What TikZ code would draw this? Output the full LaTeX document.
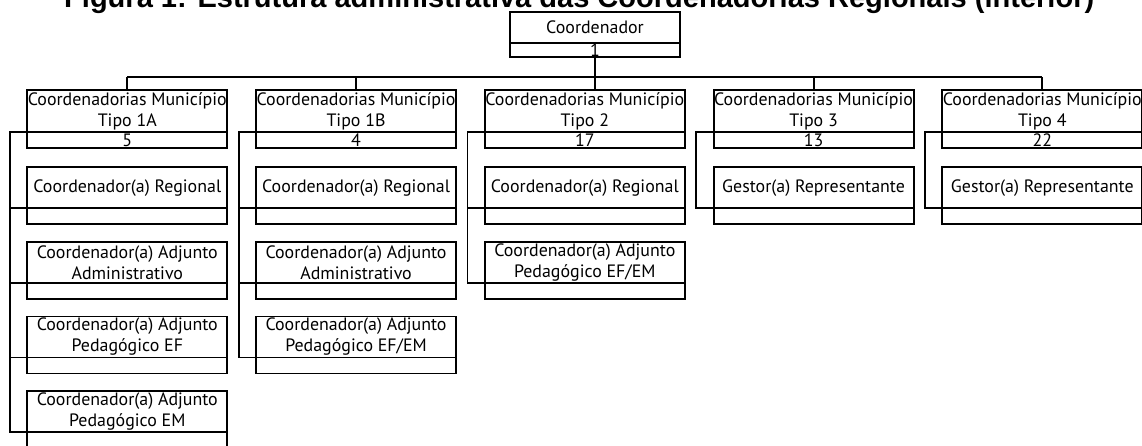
\documentclass[tikz,border=0pt]{standalone}
\usepackage{fontspec}
\setmainfont{PT Sans}
\newfontfamily\titlefont{Liberation Sans}
\usetikzlibrary{calc}

% one box of the chart: name, left x, top y, label
\newcommand{\orgchild}[4]{%
  \node[cbox] (#1) at (#2,#3) {};
  \coordinate (#1d) at ($(#1.north west)+(0,41)$);
  \draw[wire] (#1d) -- (#1d -| #1.east);
  \node[lbl] (#1t) at ($(#1.north)+(0,20.5)$) {#4};
}
% head box of a column: name, left x, type, count
\newcommand{\orghead}[4]{%
  \node[hbox] (#1) at (#2,90) {};
  \coordinate (#1d) at ($(#1.north west)+(0,41.7)$);
  \draw[wire] (#1d) -- (#1d -| #1.east);
  \node[lbl] (#1t) at ($(#1.north)+(0,21)$) {Coordenadorias Município\\#3};
  \node[lbl] (#1n) at ($(#1.north)+(0,50.3)$) {#4};
}

\begin{document}
\begin{tikzpicture}[x=1pt,y=-1pt,
  wire/.style={line width=1.9pt},
  cbox/.style={draw, line width=1.9pt, minimum width=200pt, minimum height=57pt,
    anchor=north west, inner sep=0pt, outer sep=0pt},
  hbox/.style={cbox, minimum height=58.3pt},
  lbl/.style={align=center, inner sep=0pt, font=\fontsize{17.9}{21}\selectfont}]

\useasboundingbox (0,0) rectangle (1142,446);

% title
\node[anchor=base west, inner sep=0pt] (title) at (64,7.5)
  {\resizebox{1030pt}{!}{\titlefont\bfseries Figura 1: Estrutura administrativa das Coordenadorias Regionais (interior)}};

% coordinator
\node[draw, line width=1.9pt, minimum width=170pt, minimum height=45.3pt,
  anchor=north, inner sep=0pt, outer sep=0pt] (co) at (595,11.7) {};
\coordinate (cod) at ($(co.north west)+(0,31.3)$);
\draw[wire] (cod) -- (cod -| co.east);
\node[lbl] (cot) at ($(co.north)+(0,15.3)$) {Coordenador};
\node[lbl] (con) at ($(co.north)+(0,38.3)$) {1};

% column heads
\orghead{h1}{27.3}{Tipo 1A}{5}
\orghead{h2}{256.05}{Tipo 1B}{4}
\orghead{h3}{484.8}{Tipo 2}{17}
\orghead{h4}{713.55}{Tipo 3}{13}
\orghead{h5}{942.3}{Tipo 4}{22}

% column 1
\orgchild{a1}{27.3}{167.3}{Coordenador(a) Regional}
\orgchild{a2}{27.3}{241.9}{Coordenador(a) Adjunto\\Administrativo}
\orgchild{a3}{27.3}{316.5}{Coordenador(a) Adjunto\\Pedagógico EF}
\orgchild{a4}{27.3}{391.0}{Coordenador(a) Adjunto\\Pedagógico EM}
% column 2
\orgchild{b1}{256.05}{167.3}{Coordenador(a) Regional}
\orgchild{b2}{256.05}{241.9}{Coordenador(a) Adjunto\\Administrativo}
\orgchild{b3}{256.05}{316.5}{Coordenador(a) Adjunto\\Pedagógico EF/EM}
% column 3
\orgchild{c1}{484.8}{167.3}{Coordenador(a) Regional}
\orgchild{c2}{484.8}{241.9}{Coordenador(a) Adjunto\\Pedagógico EF/EM}
% columns 4 and 5
\orgchild{d1}{713.55}{167.3}{Gestor(a) Representante}
\orgchild{e1}{942.3}{167.3}{Gestor(a) Representante}

% bus from the coordinator to the column heads
\coordinate (bus) at (0,76.7);
\draw[wire] (co.south) -- (co.south |- h3.north);
\draw[line width=2.2pt] (h1.north |- bus) -- (h5.north |- bus);
\foreach \h in {h1,h2,h4,h5}
  \draw[wire] (\h.north) -- (\h.north |- bus);

% side brackets from each head to its boxes
\foreach \h/\kids/\last in {h1/{a1,a2,a3}/a4, h2/{b1,b2}/b3, h3/{c1}/c2, h4/{}/d1, h5/{}/e1}{
  \coordinate (br) at ($(\h d)+(-17.3,0)$);
  \draw[wire] (\h d) -- (br) |- (\last d);
  \foreach \k in \kids
    \draw[wire] (br |- \k d) -- (\k d);
}
\end{tikzpicture}
\end{document}
